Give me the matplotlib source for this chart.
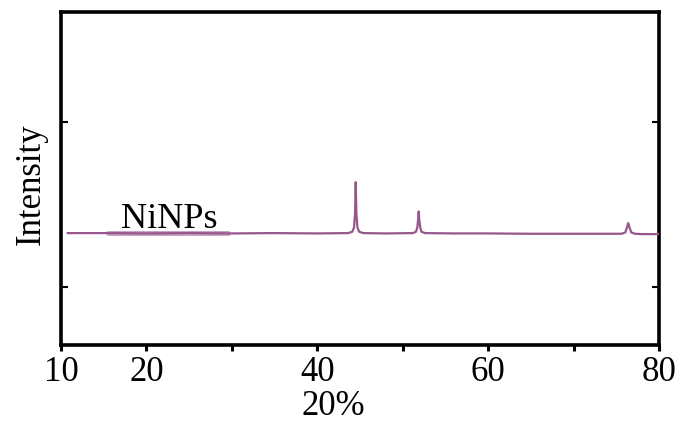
import matplotlib
matplotlib.use("Agg")
import matplotlib.pyplot as plt

# XRD pattern of Ni nanoparticles (2-theta in degrees, intensity in arbitrary units)
two_theta = [10.8, 15.0, 20.0, 25.0, 30.0, 35.0, 40.0, 43.6, 44.1, 44.3, 44.42,
             44.5, 44.58, 44.7, 44.9, 45.4, 48.0, 51.2, 51.55, 51.7, 51.8,
             51.87, 51.94, 52.05, 52.2, 52.6, 56.0, 60.0, 65.0, 70.0, 75.6,
             76.05, 76.25, 76.4, 76.55, 76.75, 77.2, 78.0, 80.0]
intensity = [33.6, 33.6, 33.5, 33.6, 33.5, 33.6, 33.5, 33.6, 34.0, 35.3, 39.5,
             48.9, 39.5, 35.3, 34.0, 33.6, 33.5, 33.6, 34.0, 35.2, 37.6,
             40.1, 37.6, 35.2, 34.0, 33.6, 33.5, 33.5, 33.4, 33.4, 33.4,
             33.8, 35.3, 36.6, 35.3, 33.8, 33.4, 33.3, 33.3]

# highlighted stretch of the trace under the sample label
label_span = [15.5, 29.5]
label_level = 33.5

x_major = [10, 20, 40, 60, 80]
x_minor = [30, 50, 70]
y_ticks = [17.4, 67.0]

font = "Liberation Serif"
fs = 25

fig = plt.figure(figsize=(6.82, 4.22), dpi=100)
ax = fig.add_axes([0.0894, 0.1825, 0.8769, 0.7891])

ax.plot(label_span, [label_level, label_level], color="#caa4c7", lw=3.6,
        solid_capstyle="round", zorder=2)
ax.plot(two_theta, intensity, color="#97568c", lw=1.6, zorder=3)

ax.text(22.7, 35.0, "NiNPs", family=font, fontsize=26, ha="center",
        va="baseline", zorder=4)

ax.set_xlim(10, 80)
ax.set_ylim(0, 100)

ax.set_xticks(x_major)
ax.set_xticklabels([str(v) for v in x_major])
ax.set_xticks(x_minor, minor=True)
ax.set_yticks(y_ticks)
ax.set_yticklabels([])

ax.tick_params(axis="x", which="both", direction="out", length=4, width=2.2,
               pad=4, labelsize=fs)
ax.tick_params(axis="y", which="both", direction="in", length=5, width=1.5,
               left=True, right=True)
for lab in ax.get_xticklabels():
    lab.set_family(font)

for sp in ax.spines.values():
    sp.set_linewidth(2.6)

ax.set_xlabel("20%", family=font, fontsize=fs)
ax.xaxis.set_label_coords(0.455, -0.186)
ax.xaxis.label.set_va("center")

ax.set_ylabel("Intensity", family=font, fontsize=fs)
ax.yaxis.set_label_coords(-0.050, 0.483)
ax.yaxis.label.set_va("center")

fig.savefig("out.png", dpi=100)
